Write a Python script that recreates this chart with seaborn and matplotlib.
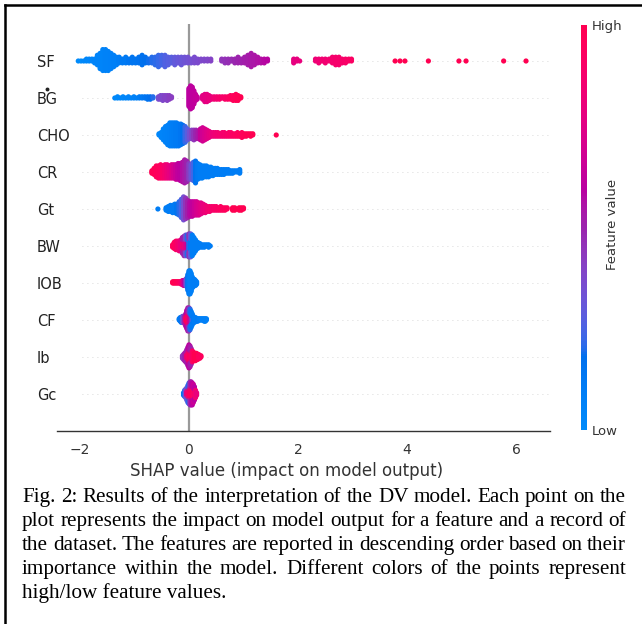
import numpy as np
import pandas as pd
import matplotlib
matplotlib.use("Agg")
import matplotlib.pyplot as plt
from matplotlib.colors import LinearSegmentedColormap, Normalize
from matplotlib.cm import ScalarMappable
from matplotlib.lines import Line2D
import seaborn as sns

# ---------------- data ----------------
FEATURES = ["SF", "BG", "CHO", "CR", "Gt", "BW", "IOB", "CF", "Ib", "Gc"]

SF_shap = [-2.03, -1.98, -1.93, -1.88, -1.83, -1.78, -1.73, -1.68, -1.63, -1.58, -1.53, -1.48, -1.43, -1.38, -1.33, -1.28,
           -1.22, -1.16, -1.10, -1.04, -0.98, -0.92, -0.86, -0.80, -0.74, -0.68, -0.62, -0.56, -0.50, -0.44, -0.38, -0.32,
           -0.26, -0.20, -0.14, -0.08, -0.02,
           0.04, 0.10, 0.16, 0.22, 0.28, 0.34, 0.40,
           0.60, 0.66, 0.72, 0.78, 0.84, 0.90, 0.96, 1.02, 1.08, 1.14, 1.20, 1.26, 1.32, 1.38, 1.44,
           1.92, 1.98, 2.03,
           2.32, 2.38, 2.44, 2.50, 2.57, 2.63, 2.69, 2.75, 2.81, 2.87, 2.93, 2.98,
           3.78, 3.87, 3.96, 4.39, 4.95, 5.08, 5.77, 6.18]
SF_count = [1, 1, 1, 2, 2, 2, 3, 6, 9, 12, 12, 11, 9, 7, 5, 4,
            3, 4, 3, 4, 3, 4, 6, 4, 3, 4, 5, 7, 6, 7, 5, 4,
            5, 4, 5, 4, 4,
            3, 4, 3, 2, 2, 2, 2,
            2, 3, 3, 2, 3, 4, 3, 4, 6, 8, 6, 4, 3, 3, 2,
            3, 2, 1,
            2, 3, 2, 3, 2, 4, 5, 5, 3, 3, 2, 2,
            1, 1, 1, 1, 1, 1, 1, 1]
SF_value = [0.00, 0.00, 0.02, 0.03, 0.03, 0.04, 0.05, 0.05, 0.05, 0.05, 0.06, 0.06, 0.07, 0.08, 0.08, 0.10,
            0.12, 0.12, 0.14, 0.15, 0.15, 0.16, 0.17, 0.18, 0.19, 0.20, 0.21, 0.22, 0.24, 0.26, 0.27, 0.28,
            0.30, 0.31, 0.32, 0.33, 0.34,
            0.35, 0.36, 0.37, 0.38, 0.38, 0.39, 0.40,
            0.45, 0.46, 0.47, 0.48, 0.49, 0.50, 0.51, 0.52, 0.53, 0.54, 0.55, 0.56, 0.57, 0.58, 0.59,
            0.78, 0.79, 0.80,
            0.83, 0.84, 0.85, 0.85, 0.86, 0.87, 0.88, 0.88, 0.89, 0.90, 0.91, 0.92,
            1.0, 1.0, 1.0, 1.0, 1.0, 1.0, 1.0, 1.0]

BG_shap = [-1.36, -1.31, -1.26, -1.21, -1.16, -1.11, -1.06, -1.01, -0.96, -0.91, -0.86, -0.81, -0.76, -0.71, -0.66,
           -0.56, -0.52, -0.48, -0.44, -0.40, -0.36, -0.32,
           0.00, 0.03, 0.06, 0.09, 0.12, 0.15,
           0.25, 0.29, 0.33, 0.37, 0.41, 0.46, 0.51, 0.56, 0.61, 0.66, 0.71, 0.76, 0.81, 0.86, 0.90, 0.95]
BG_count = [1, 2, 1, 2, 1, 2, 1, 2, 1, 2, 2, 2, 3, 3, 2,
            3, 4, 5, 4, 5, 4, 2,
            16, 20, 18, 12, 6, 3,
            4, 7, 7, 5, 3, 3, 3, 3, 2, 3, 3, 4, 5, 6, 5, 2]
BG_value = [0.02, 0.02, 0.03, 0.03, 0.04, 0.05, 0.05, 0.06, 0.08, 0.10, 0.12, 0.14, 0.16, 0.18, 0.20,
            0.36, 0.38, 0.38, 0.40, 0.40, 0.42, 0.42,
            0.60, 0.60, 0.61, 0.62, 0.63, 0.64,
            0.76, 0.77, 0.78, 0.79, 0.80, 0.84, 0.86, 0.88, 0.89, 0.90, 0.92, 0.94, 0.96, 0.97, 0.98, 1.0]

CHO_shap = [-0.55, -0.51, -0.47, -0.43, -0.39, -0.35, -0.31, -0.27, -0.23, -0.19, -0.15, -0.11, -0.07, -0.03,
            0.01, 0.05, 0.09, 0.13, 0.17,
            0.21, 0.25, 0.29, 0.33, 0.37, 0.41,
            0.45, 0.49, 0.53, 0.57, 0.61, 0.65, 0.69, 0.73, 0.77, 0.81, 0.85, 0.89, 0.93, 0.97, 1.01, 1.05, 1.09, 1.13, 1.17,
            1.60]
CHO_count = [2, 5, 10, 14, 17, 20, 20, 20, 20, 19, 18, 16, 14, 10,
             7, 8, 9, 8, 7,
             10, 12, 10, 8, 6, 4,
             4, 4, 4, 3, 4, 4, 3, 4, 4, 3, 3, 4, 3, 5, 3, 3, 2, 3, 2,
             1]
CHO_value = [0.03, 0.04, 0.05, 0.06, 0.07, 0.08, 0.09, 0.10, 0.11, 0.12, 0.14, 0.17, 0.22, 0.28,
             0.35, 0.40, 0.45, 0.50, 0.55,
             0.64, 0.68, 0.71, 0.74, 0.77, 0.80,
             0.82, 0.84, 0.85, 0.86, 0.87, 0.88, 0.89, 0.90, 0.91, 0.92, 0.93, 0.94, 0.95, 0.96, 0.97, 0.98, 0.99, 1.0, 1.0,
             1.0]

CR_shap = [-0.68, -0.64, -0.60, -0.56, -0.52, -0.48, -0.44, -0.40, -0.36, -0.32,
           -0.28, -0.24, -0.20, -0.16, -0.12, -0.08, -0.04,
           0.00, 0.04, 0.08, 0.12, 0.16, 0.20,
           0.24, 0.28, 0.32, 0.36, 0.40, 0.44, 0.48, 0.52, 0.56, 0.60, 0.64, 0.68, 0.72, 0.76, 0.80, 0.84, 0.88, 0.93]
CR_count = [3, 6, 10, 11, 12, 11, 12, 12, 11, 12,
            12, 13, 14, 15, 17, 20, 18,
            14, 13, 16, 19, 14, 12,
            11, 10, 10, 9, 8, 7, 6, 6, 5, 5, 5, 4, 4, 3, 3, 2, 2, 4]
CR_value = [0.98, 0.97, 0.96, 0.95, 0.93, 0.90, 0.86, 0.82, 0.78, 0.74,
            0.70, 0.66, 0.62, 0.60, 0.57, 0.54, 0.50,
            0.42, 0.33, 0.24, 0.16, 0.12, 0.10,
            0.10, 0.10, 0.10, 0.10, 0.10, 0.10, 0.10, 0.10, 0.10, 0.10, 0.10, 0.10, 0.10, 0.10, 0.10, 0.10, 0.10, 0.10]

Gt_shap = [-0.57, -0.42, -0.38, -0.34, -0.30, -0.26, -0.22, -0.18,
           -0.14, -0.10, -0.06, -0.02,
           0.02, 0.06, 0.10, 0.14, 0.18, 0.22, 0.26, 0.30,
           0.34, 0.38, 0.42, 0.46, 0.50, 0.54, 0.58, 0.62, 0.66, 0.70,
           0.80, 0.84, 0.92, 0.96, 1.00]
Gt_count = [1, 3, 5, 6, 7, 8, 9, 12,
            16, 20, 18, 15,
            13, 13, 12, 12, 11, 10, 8, 7,
            5, 5, 4, 4, 4, 3, 4, 3, 3, 2,
            3, 3, 3, 3, 2]
Gt_value = [0.10, 0.10, 0.10, 0.10, 0.12, 0.12, 0.15, 0.20,
            0.25, 0.35, 0.45, 0.52,
            0.58, 0.62, 0.66, 0.70, 0.73, 0.76, 0.79, 0.82,
            0.85, 0.87, 0.88, 0.90, 0.91, 0.92, 0.93, 0.94, 0.95, 0.96,
            1.0, 1.0, 1.0, 1.0, 1.0]

BW_shap = [-0.30, -0.27, -0.24, -0.21, -0.18, -0.15, -0.12, -0.12, -0.09, -0.09, -0.06, -0.06, -0.03, -0.03,
           0.00, 0.00, 0.03, 0.03, 0.06, 0.09, 0.12, 0.16, 0.20, 0.24, 0.28, 0.32, 0.36, 0.39]
BW_count = [3, 6, 8, 8, 9, 10, 8, 6, 9, 8, 9, 9, 9, 9,
            10, 10, 10, 10, 18, 14, 10, 6, 4, 3, 3, 2, 3, 1]
BW_value = [0.95, 0.95, 0.92, 0.88, 0.85, 0.80, 0.85, 0.55, 0.80, 0.50, 0.75, 0.35, 0.65, 0.20,
            0.20, 0.45, 0.12, 0.30, 0.10, 0.10, 0.10, 0.10, 0.10, 0.10, 0.10, 0.10, 0.10, 0.10]

IOB_shap = [-0.30, -0.28, -0.26, -0.24, -0.22, -0.20, -0.18, -0.16, -0.14, -0.12, -0.10, -0.08, -0.06, -0.04, -0.02,
            0.00, 0.02, 0.04, 0.06, 0.08, 0.10, 0.12, 0.14]
IOB_count = [2, 2, 2, 2, 2, 2, 2, 2, 3, 4, 5, 5, 6, 8, 14,
             20, 20, 16, 10, 7, 6, 5, 3]
IOB_value = [1.0, 1.0, 1.0, 0.98, 0.98, 0.96, 0.95, 0.92, 0.88, 0.80, 0.70, 0.60, 0.45, 0.30, 0.15,
             0.10, 0.08, 0.08, 0.08, 0.10, 0.10, 0.10, 0.10]

CF_shap = [-0.18, -0.16, -0.14, -0.12, -0.10, -0.08, -0.06, -0.06, -0.04, -0.04, -0.02, -0.02, 0.00, 0.00,
           0.02, 0.02, 0.04, 0.04, 0.06, 0.06, 0.08, 0.10, 0.12, 0.14, 0.16, 0.18, 0.20, 0.22, 0.24, 0.26,
           0.28, 0.30, 0.32]
CF_count = [2, 4, 5, 6, 6, 7, 6, 5, 8, 8, 10, 10, 10, 10,
            9, 9, 7, 7, 5, 5, 6, 5, 4, 3, 3, 2, 2, 2, 2, 2,
            3, 3, 2]
CF_value = [0.12, 0.12, 0.15, 0.25, 0.40, 0.50, 0.90, 0.55, 0.95, 0.60, 0.95, 0.55, 0.85, 0.45,
            0.70, 0.20, 0.50, 0.12, 0.30, 0.10, 0.12, 0.10, 0.10, 0.10, 0.12, 0.10, 0.10, 0.08, 0.08, 0.08,
            0.08, 0.08, 0.08]

Ib_shap = [-0.12, -0.10, -0.08, -0.06, -0.04, -0.04, -0.02, -0.02, 0.00, 0.00, 0.02, 0.02, 0.04, 0.04,
           0.06, 0.08, 0.10, 0.12, 0.14, 0.16, 0.18, 0.20, 0.22]
Ib_count = [3, 5, 7, 9, 6, 6, 8, 8, 10, 10, 9, 9, 8, 6,
            10, 8, 7, 7, 6, 5, 4, 3, 2]
Ib_value = [0.45, 0.45, 0.50, 0.55, 0.85, 0.50, 0.90, 0.55, 0.90, 0.60, 0.95, 0.55, 0.90, 0.50,
            0.90, 0.95, 1.0, 1.0, 1.0, 1.0, 0.95, 0.95, 0.95]

Gc_shap = [-0.10, -0.08, -0.06, -0.04, -0.04, -0.02, -0.02, 0.00, 0.00, 0.02, 0.02, 0.04, 0.04,
           0.06, 0.06, 0.08, 0.08, 0.10, 0.10, 0.12, 0.14]
Gc_count = [3, 6, 8, 6, 5, 8, 7, 9, 9, 10, 10, 10, 10,
            10, 9, 9, 7, 7, 5, 7, 3]
Gc_value = [0.15, 0.20, 0.35, 0.80, 0.30, 0.85, 0.25, 0.90, 0.20, 0.95, 0.45, 0.95, 0.55,
            0.95, 0.60, 0.90, 0.65, 0.90, 0.60, 0.85, 0.80]

XTICKS = [-2, 0, 2, 4, 6]
XTICK_LABELS = ["\u22122", "0", "2", "4", "6"]
XLABEL = "SHAP value (impact on model output)"
CBAR_TICK_LABELS = ["Low", "High"]
CBAR_LABEL = "Feature value"
CAPTION = [
    "Fig. 2: Results of the interpretation of the DV model. Each point on the",
    "plot represents the impact on model output for a feature and a record of",
    "the dataset. The features are reported in descending order based on their",
    "importance within the model. Different colors of the points represent",
    "high/low feature values.",
]

SERIES = [
    (SF_shap, SF_count, SF_value), (BG_shap, BG_count, BG_value),
    (CHO_shap, CHO_count, CHO_value), (CR_shap, CR_count, CR_value),
    (Gt_shap, Gt_count, Gt_value), (BW_shap, BW_count, BW_value),
    (IOB_shap, IOB_count, IOB_value), (CF_shap, CF_count, CF_value),
    (Ib_shap, Ib_count, Ib_value), (Gc_shap, Gc_count, Gc_value),
]

# ---------------- helpers ----------------
W, H = 642, 624


def lch2rgb(L, C, h):
    a, b = C * np.cos(h), C * np.sin(h)
    fy = (L + 16.0) / 116.0
    fx, fz = fy + a / 500.0, fy - b / 200.0

    def finv(t):
        return t ** 3 if t ** 3 > 0.008856 else (t - 16.0 / 116.0) / 7.787

    X, Y, Z = 0.95047 * finv(fx), finv(fy), 1.08883 * finv(fz)
    lin = [3.2404542 * X - 1.5371385 * Y - 0.4985314 * Z,
           -0.9692660 * X + 1.8760108 * Y + 0.0415560 * Z,
           0.0556434 * X - 0.2040259 * Y + 1.0572252 * Z]
    out = []
    for u in lin:
        u = max(u, 0.0)
        v = 1.055 * u ** (1 / 2.4) - 0.055 if u > 0.0031308 else 12.92 * u
        out.append(min(max(v, 0.0), 1.0))
    return out


nsteps = 100
l_vals = list(np.linspace(54.0, 40.0, nsteps // 2)) + list(np.linspace(40.0, 54.0, nsteps // 2))
c_vals = np.linspace(70.0, 90.0, nsteps)
h_vals = np.linspace(4.6588, 0.35470565 + 2 * np.pi, nsteps)
red_blue = LinearSegmentedColormap.from_list(
    "red_blue", [lch2rgb(l, c, h) for l, c, h in zip(l_vals, c_vals, h_vals)])


def swarm_offsets(x, row_height=0.4):
    _, quant = np.unique(x, return_inverse=True)
    order = np.argsort(quant, kind="stable")
    ys = np.zeros(len(x))
    layer, last = 0, -1
    for ind in order:
        if quant[ind] != last:
            layer = 0
        ys[ind] = np.ceil(layer / 2) * ((layer % 2) * 2 - 1)
        layer += 1
        last = quant[ind]
    ys *= 0.9 * (row_height / np.max(ys + 1))
    return ys


frames = []
n_feat = len(FEATURES)
for i, (name, (xs, ns, cs)) in enumerate(zip(FEATURES, SERIES)):
    pos = n_feat - 1 - i
    x = np.repeat(np.asarray(xs, float), ns)
    c = np.repeat(np.asarray(cs, float), ns)
    frames.append(pd.DataFrame({"feature": name, "shap": x, "value": c,
                                "ypos": pos + swarm_offsets(x)}))
df = pd.concat(frames, ignore_index=True)

# ---------------- figure ----------------
sns.set_style("white")
plt.rcParams["font.family"] = ["DejaVu Sans"]

fig = plt.figure(figsize=(W / 100, H / 100), dpi=100)
ax = fig.add_axes([57 / W, 1 - 431 / H, (550 - 57) / W, (431 - 24) / H])

for pos in range(n_feat):
    ax.axhline(pos, xmin=0.05, xmax=0.995, color="#cccccc", lw=0.6, dashes=(1, 5), zorder=-1)
ax.axvline(0, color="#999999", lw=1.6, zorder=-1)

sns.scatterplot(data=df, x="shap", y="ypos", hue="value", palette=red_blue, hue_norm=(0, 1),
                s=14, linewidth=0, legend=False, ax=ax, zorder=3)

ax.set_xlim(-2.42, 6.62)
ax.set_ylim(-1, n_feat)
for s in ["top", "right", "left"]:
    ax.spines[s].set_visible(False)
ax.spines["bottom"].set_color("#333333")
ax.spines["bottom"].set_linewidth(1.0)

ax.set_xticks(XTICKS)
ax.set_xticklabels(XTICK_LABELS)
ax.tick_params(axis="x", labelsize=10, colors="#333333", length=3.5, width=0.8, pad=5)
ax.set_yticks(range(n_feat))
ax.set_yticklabels(FEATURES[::-1], ha="left")
ax.tick_params(axis="y", length=0, pad=14.4, labelsize=10.5, labelcolor="#222222")
ax.set_xlabel(XLABEL, fontsize=12, color="#333333", labelpad=4)
ax.xaxis.set_label_coords((287 - 57) / (550 - 57), -0.075)
ax.set_ylabel("")

# dot above the BG label
fig.add_artist(Line2D([47 / W], [1 - 89 / H], marker="o", markersize=1.8, color="#222222",
                      linestyle="none", transform=fig.transFigure))

# colour bar
cax = fig.add_axes([581 / W, 1 - 430 / H, 6 / W, 405 / H])
cb = fig.colorbar(ScalarMappable(norm=Normalize(0, 1), cmap=red_blue), cax=cax, ticks=[0, 1])
cb.set_ticklabels(CBAR_TICK_LABELS)
cb.outline.set_visible(False)
cax.tick_params(length=0, labelsize=9.5, pad=3.5, labelcolor="#333333")
fig.text(613 / W, 1 - 224 / H, CBAR_LABEL, rotation=90, ha="center", va="center",
         fontsize=9.5, color="#333333")

# caption, justified
renderer = fig.canvas.get_renderer()
x0, x1 = 22 / W, 626 / W
cap_kw = dict(fontsize=15.2, family="Liberation Serif", color="black", va="baseline")
for k, line in enumerate(CAPTION):
    yb = 1 - (502 + 24 * k) / H
    if k == len(CAPTION) - 1:
        fig.text(x0, yb, line, **cap_kw)
        continue
    words = line.split(" ")
    texts = [fig.text(0, yb, w, **cap_kw) for w in words]
    widths = [t.get_window_extent(renderer).width / W for t in texts]
    gap = (x1 - x0 - sum(widths)) / (len(words) - 1)
    xx = x0
    for t, w in zip(texts, widths):
        t.set_x(xx)
        xx += w + gap

# frame lines (left and top)
fig.add_artist(Line2D([4.5 / W, 4.5 / W], [0, 1 - 5 / H], color="black", lw=1.8,
                      transform=fig.transFigure, solid_capstyle="projecting"))
fig.add_artist(Line2D([4.5 / W, 1], [1 - 5 / H, 1 - 5 / H], color="black", lw=1.8,
                      transform=fig.transFigure, solid_capstyle="projecting"))

fig.savefig("out.png", dpi=100)
